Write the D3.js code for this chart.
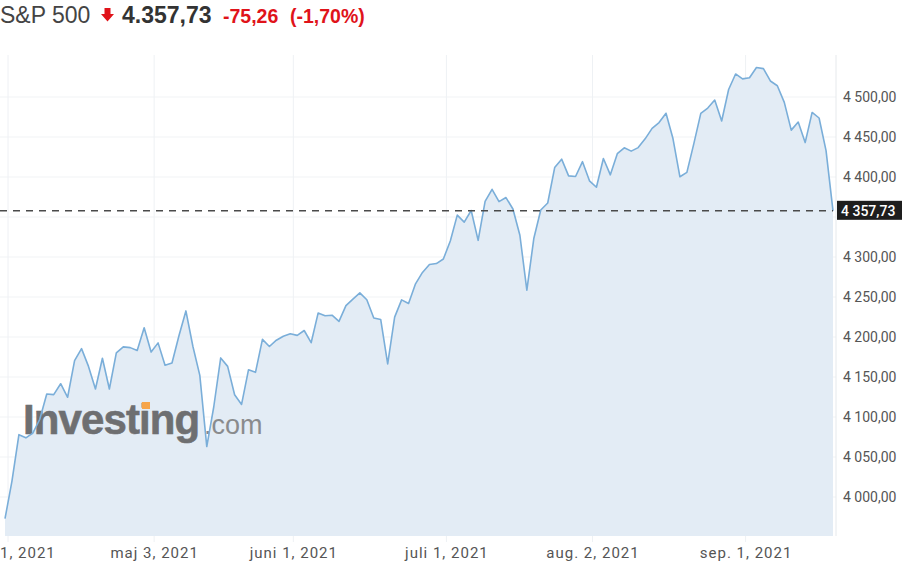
<!DOCTYPE html>
<html><head><meta charset="utf-8">
<script src="https://cdn.jsdelivr.net/npm/d3@7"></script>
<style>
html,body{margin:0;padding:0;background:#fff;}
svg{display:block;}
</style></head>
<body>
<svg id="chart" width="908" height="568"></svg>
<script>
// ---- data (trading days, Mar 31 – Sep 20, 2021) ----
const dates = ["2021-03-31","2021-04-01","2021-04-05","2021-04-06","2021-04-07","2021-04-08","2021-04-09","2021-04-12","2021-04-13","2021-04-14","2021-04-15","2021-04-16","2021-04-19","2021-04-20","2021-04-21","2021-04-22","2021-04-23","2021-04-26","2021-04-27","2021-04-28","2021-04-29","2021-04-30",
"2021-05-03","2021-05-04","2021-05-05","2021-05-06","2021-05-07","2021-05-10","2021-05-11","2021-05-12","2021-05-13","2021-05-14","2021-05-17","2021-05-18","2021-05-19","2021-05-20","2021-05-21","2021-05-24","2021-05-25","2021-05-26","2021-05-27","2021-05-28",
"2021-06-01","2021-06-02","2021-06-03","2021-06-04","2021-06-07","2021-06-08","2021-06-09","2021-06-10","2021-06-11","2021-06-14","2021-06-15","2021-06-16","2021-06-17","2021-06-18","2021-06-21","2021-06-22","2021-06-23","2021-06-24","2021-06-25","2021-06-28","2021-06-29","2021-06-30",
"2021-07-01","2021-07-02","2021-07-06","2021-07-07","2021-07-08","2021-07-09","2021-07-12","2021-07-13","2021-07-14","2021-07-15","2021-07-16","2021-07-19","2021-07-20","2021-07-21","2021-07-22","2021-07-23","2021-07-26","2021-07-27","2021-07-28","2021-07-29","2021-07-30",
"2021-08-02","2021-08-03","2021-08-04","2021-08-05","2021-08-06","2021-08-09","2021-08-10","2021-08-11","2021-08-12","2021-08-13","2021-08-16","2021-08-17","2021-08-18","2021-08-19","2021-08-20","2021-08-23","2021-08-24","2021-08-25","2021-08-26","2021-08-27","2021-08-30","2021-08-31",
"2021-09-01","2021-09-02","2021-09-03","2021-09-07","2021-09-08","2021-09-09","2021-09-10","2021-09-13","2021-09-14","2021-09-15","2021-09-16","2021-09-17","2021-09-20"];
const closes = [3972.89,4019.87,4077.91,4073.94,4079.95,4097.17,4128.80,4127.99,4141.59,4124.66,4170.42,4185.47,4163.26,4134.94,4173.42,4134.98,4180.17,4187.62,4186.72,4183.18,4211.47,4181.17,
4192.66,4164.66,4167.59,4201.62,4232.60,4188.43,4152.10,4063.04,4112.50,4173.85,4163.29,4127.83,4115.68,4159.12,4155.86,4197.05,4188.13,4195.99,4200.88,4204.11,
4202.04,4208.12,4192.85,4229.89,4226.52,4227.26,4219.55,4239.18,4247.44,4255.15,4246.59,4223.70,4221.86,4166.45,4224.79,4246.44,4241.84,4266.49,4280.70,4290.61,4291.80,4297.50,
4319.94,4352.34,4343.54,4358.13,4320.82,4369.55,4384.63,4369.21,4374.30,4360.03,4327.16,4258.49,4323.06,4358.69,4367.48,4411.79,4422.30,4401.46,4400.64,4419.15,4395.26,
4387.16,4423.15,4402.66,4429.10,4436.52,4432.35,4436.75,4447.70,4460.83,4468.00,4479.71,4448.08,4400.27,4405.80,4441.67,4479.53,4486.23,4496.19,4470.00,4509.37,4528.79,4522.68,
4524.09,4536.95,4535.43,4520.03,4514.07,4493.28,4458.58,4468.73,4443.05,4480.70,4473.75,4432.99,4357.73];
const tickDates = ["2021-04-01","2021-05-03","2021-06-01","2021-07-01","2021-08-02","2021-09-01"];
const tickLabels = ["april 1, 2021","maj 3, 2021","juni 1, 2021","juli 1, 2021","aug. 2, 2021","sep. 1, 2021"];
const yTicks = [4000,4050,4100,4150,4200,4250,4300,4350,4400,4450,4500];
const lastPrice = 4357.73, change = -75.26, changePct = -1.70;
const title = "S&P 500";

// ---- layout ----
const svg = d3.select("#chart");
const plot = {left:0, right:836, top:55, bottom:536};
// closes are stamped at market-open time (~0.56 of a day after midnight)
const sessionOffset = 0.5625;

const x = d3.scaleLinear().domain([0, dates.length-1]).range([5, 833]);
const y = d3.scaleLinear().domain([4000, 4500]).range([497, 97]);
const tickIdx = tickDates.map(d => dates.indexOf(d) - sessionOffset);

// Danish-style number locale: space thousands, comma decimals, hyphen minus
const daAxis = d3.formatLocale({decimal:",", thousands:" ", grouping:[3], currency:["",""], minus:"-"});
const daHead = d3.formatLocale({decimal:",", thousands:".", grouping:[3], currency:["",""], minus:"-"});
const fmt = daAxis.format(",.2f");
const fmtHead = daHead.format(",.2f");

// gridlines
const g = svg.append("g");
g.selectAll(".hg").data(yTicks).enter().append("line")
  .attr("x1", plot.left).attr("x2", plot.right)
  .attr("y1", d => y(d)).attr("y2", d => y(d))
  .attr("stroke", "#f1f3f5").attr("stroke-width", 1);
g.selectAll(".vg").data(tickIdx).enter().append("line")
  .attr("x1", d => x(d)).attr("x2", d => x(d))
  .attr("y1", plot.top).attr("y2", plot.bottom + 6)
  .attr("stroke", "#eef1f4").attr("stroke-width", 1);

// area
const pts = closes.map((c,i) => [i, c]);
svg.append("path").datum(pts)
  .attr("fill", "#e3ecf5")
  .attr("d", d3.area().x(d => x(d[0])).y0(plot.bottom).y1(d => y(d[1])));

// watermark logo
const logo = svg.append("g");
logo.append("text").attr("x", 23).attr("y", 434)
  .attr("font-family", "Liberation Sans, Arial, sans-serif").attr("font-weight", "bold")
  .attr("font-size", 42).attr("letter-spacing", -0.9).attr("fill", "#6e6f71")
  .attr("stroke", "#6e6f71").attr("stroke-width", 0.6)
  .text("Investing");
logo.append("text").attr("x", 204).attr("y", 434)
  .attr("font-family", "Liberation Sans, Arial, sans-serif")
  .attr("font-size", 27).attr("fill", "#8a8b8d")
  .text(".com");
logo.append("rect").attr("x", 142).attr("y", 402).attr("width", 8).attr("height", 7)
  .attr("fill", "#f6a54a");

// line
svg.append("path").datum(pts)
  .attr("fill", "none").attr("stroke", "#7aaed9").attr("stroke-width", 1.6)
  .attr("stroke-linejoin", "round")
  .attr("d", d3.line().x(d => x(d[0])).y(d => y(d[1])));

// dashed current price line
svg.append("line")
  .attr("x1", 0).attr("x2", x(dates.length-1))
  .attr("y1", y(lastPrice)).attr("y2", y(lastPrice))
  .attr("stroke", "#4a4a4a").attr("stroke-width", 1.4).attr("stroke-dasharray", "7,6");

// right axis line
svg.append("line").attr("x1", plot.right).attr("x2", plot.right)
  .attr("y1", plot.top).attr("y2", plot.bottom)
  .attr("stroke", "#e6e9ec").attr("stroke-width", 1);

// y-axis labels
const yAxis = d3.axisRight(y).tickValues(yTicks.filter(v => Math.abs(y(v) - y(lastPrice)) > 14))
  .tickFormat(fmt).tickSize(0).tickPadding(0);
const ya = svg.append("g").attr("transform", `translate(${plot.right + 7},0)`).call(yAxis);
ya.select(".domain").remove();
ya.selectAll("text").attr("font-family", "Roboto, sans-serif").attr("font-size", 14)
  .attr("fill", "#555").attr("dy", "0.35em");

// current price label
svg.append("rect").attr("x", 837).attr("y", y(lastPrice) - 10).attr("width", 65).attr("height", 19)
  .attr("fill", "#1e1e1e");
svg.append("text").attr("x", 841).attr("y", y(lastPrice) + 5)
  .attr("font-family", "Roboto, sans-serif").attr("font-size", 14).attr("font-weight", 500)
  .attr("fill", "#fff").text(fmt(lastPrice));

// x-axis labels
const xAxis = d3.axisBottom(x).tickValues(tickIdx)
  .tickFormat((d,i) => tickLabels[i]).tickSize(0).tickPadding(0);
const xa = svg.append("g").attr("transform", `translate(0,${plot.bottom + 11})`).call(xAxis);
xa.select(".domain").remove();
xa.selectAll("text").attr("font-family", "Roboto, sans-serif").attr("font-size", 15)
  .attr("letter-spacing", 1).attr("fill", "#555").attr("dy", "0.71em");

// header
const hdr = svg.append("g");
hdr.append("text").attr("x", 0).attr("y", 23)
  .attr("font-family", "Liberation Sans, Arial, sans-serif").attr("font-size", 23)
  .attr("fill", "#444").text(title);
hdr.append("path")
  .attr("d", "M104.5,8 L110.5,8 L110.5,14 L114,14 L107.5,21.5 L101,14 L104.5,14 Z")
  .attr("fill", "#e0131a");
hdr.append("text").attr("x", 122).attr("y", 23)
  .attr("font-family", "Liberation Sans, Arial, sans-serif").attr("font-size", 23).attr("font-weight", "bold")
  .attr("fill", "#333").text(fmtHead(lastPrice));
hdr.append("text").attr("x", 223).attr("y", 23)
  .attr("font-family", "Liberation Sans, Arial, sans-serif").attr("font-size", 19.5).attr("font-weight", "bold")
  .attr("fill", "#e0131a").text(fmtHead(change));
hdr.append("text").attr("x", 290).attr("y", 23)
  .attr("font-family", "Liberation Sans, Arial, sans-serif").attr("font-size", 19.5).attr("font-weight", "bold")
  .attr("fill", "#e0131a").text("(" + fmtHead(changePct) + "%)");
</script>
</body></html>
